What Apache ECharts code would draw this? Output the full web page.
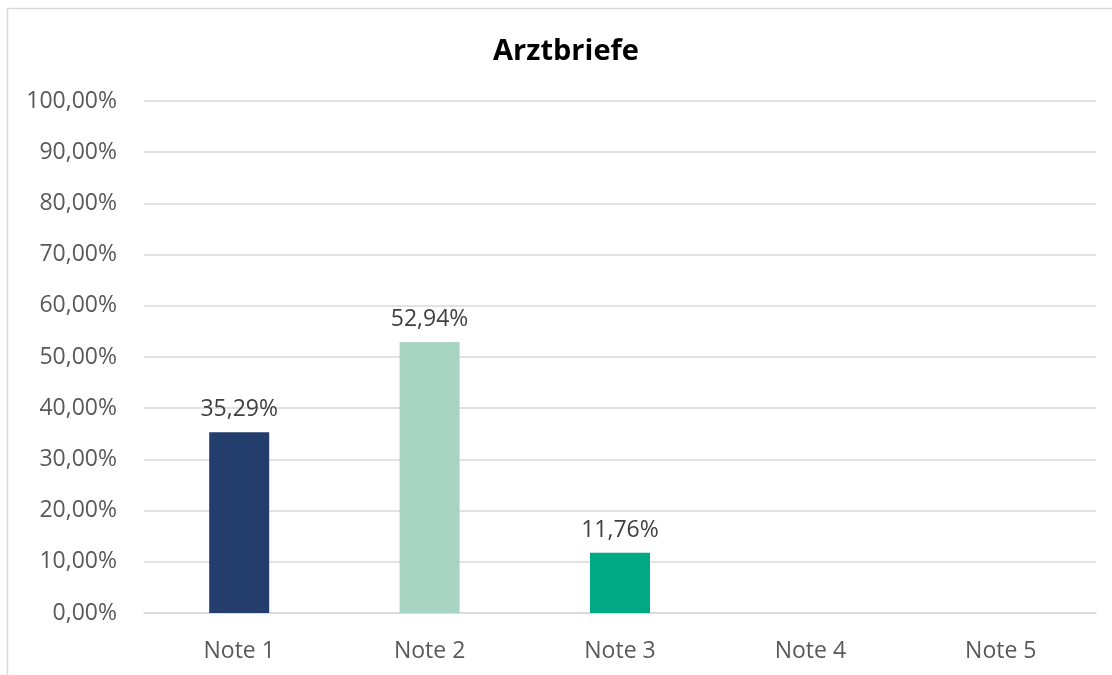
<!DOCTYPE html>
<html>
<head>
<meta charset="utf-8">
<script src="https://cdn.jsdelivr.net/npm/echarts@6/dist/echarts.min.js"></script>
<style>
  html, body { margin: 0; padding: 0; background: #ffffff; }
  #chart { width: 1112px; height: 675px; }
</style>
</head>
<body>
<div id="chart"></div>
<script>
// Grade distribution for doctors' letters (percent of responses)
const categories = ['Note 1', 'Note 2', 'Note 3', 'Note 4', 'Note 5'];
const shares = [35.29, 52.94, 11.76, 0, 0];
const barColors = ['#233D6D', '#A8D5C2', '#00A884', '#233D6D', '#233D6D'];
const chartTitle = 'Arztbriefe';

const pct = v => v.toFixed(2).replace('.', ',') + '%';
const FONT = '"Open Sans", "Noto Sans", sans-serif';

const chart = echarts.init(document.getElementById('chart'), null, { renderer: 'canvas' });
chart.setOption({
  animation: false,
  backgroundColor: '#ffffff',
  title: {
    text: chartTitle,
    left: 561,
    textAlign: 'center',
    top: 32,
    textStyle: { fontFamily: FONT, fontSize: 29, fontWeight: 'bold', color: '#000000' }
  },
  graphic: [{
    type: 'rect',
    shape: { x: 7.5, y: 8.5, width: 1200, height: 800 },
    style: { fill: 'none', stroke: '#D9D9D9', lineWidth: 1.5 },
    silent: true
  }],
  grid: { left: 144, right: 16, top: 101, bottom: 62, containLabel: false },
  xAxis: {
    type: 'category',
    data: categories,
    axisLine: { show: true, lineStyle: { color: '#D9D9D9', width: 1.5 } },
    axisTick: { show: false },
    axisLabel: { color: '#595959', fontFamily: FONT, fontSize: 23, margin: 27 }
  },
  yAxis: {
    type: 'value',
    min: 0,
    max: 100,
    interval: 10,
    axisLine: { show: false },
    axisTick: { show: false },
    splitLine: { lineStyle: { color: '#D9D9D9', width: 1.5 } },
    axisLabel: {
      color: '#595959', fontFamily: FONT, fontSize: 23, margin: 27,
      padding: [4, 0, 0, 0], formatter: pct
    }
  },
  series: [{
    type: 'bar',
    barWidth: 60,
    data: shares.map((v, i) => ({ value: v, itemStyle: { color: barColors[i] } })),
    label: {
      show: true,
      position: 'top',
      distance: 11,
      color: '#404040',
      fontFamily: FONT,
      fontSize: 23,
      formatter: p => (p.value > 0 ? pct(p.value) : '')
    }
  }]
});
</script>
</body>
</html>
